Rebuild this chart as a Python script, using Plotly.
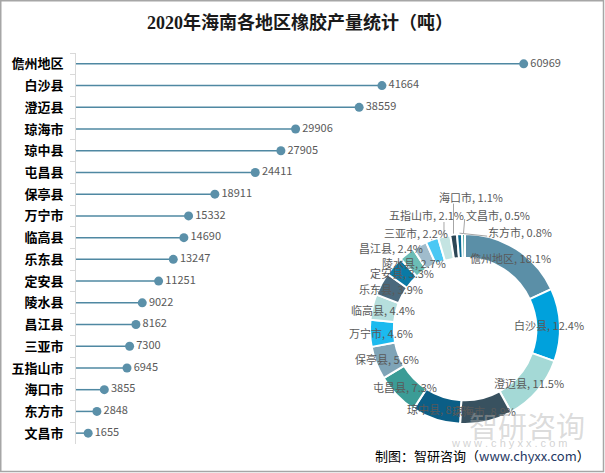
import math
import plotly.graph_objects as go

# ---------------- data ----------------
regions = ["儋州地区", "白沙县", "澄迈县", "琼海市", "琼中县", "屯昌县", "保亭县", "万宁市", "临高县",
           "乐东县", "定安县", "陵水县", "昌江县", "三亚市", "五指山市", "海口市", "东方市", "文昌市"]
output_t = [60969, 41664, 38559, 29906, 27905, 24411, 18911, 15332, 14690,
            13247, 11251, 9022, 8162, 7300, 6945, 3855, 2848, 1655]

title_text = "2020年海南各地区橡胶产量统计（吨）"
source_text = "制图：智研咨询（<span style='color:#1f3864'>www.chyxx.com</span>）"

# ---------------- style ----------------
W, H = 605, 473
ML, MR, MT, MB = 76, 15, 53, 29
PW, PH = W - ML - MR, H - MT - MB
X_MAX = 70000

slice_colors = ["#5b8fa7", "#00a1dc", "#a4d9d6", "#38515f", "#0b5e86", "#3b9c96",
                "#7fa4b7", "#1cbaef", "#b6dfdd", "#4a697d", "#0a7aa6", "#6bbdb6",
                "#a0bccc", "#4ac8f4", "#c4e4e2", "#2c4656", "#0a6b92", "#3fa09a"]

# donut geometry (pixels)
CX, CY, R_OUT, HOLE = 465, 329, 95, 0.75
R_LABEL = 84
label_shift = {"昌江县": (-34, -7), "三亚市": (-20, -17), "五指山市": (-20, -32),
               "海口市": (16, -49), "东方市": (60, -13), "文昌市": (34, -30)}
leader_regions = ["三亚市", "五指山市", "海口市", "东方市", "文昌市"]

CJK = "Noto Sans CJK SC"


def px_x(px):
    return (px - ML) / PW


def px_y(py):
    return (MT + PH - py) / PH


fig = go.Figure()

# lollipop stems
sx, sy = [], []
for r, v in zip(regions, output_t):
    sx += [0, v, None]
    sy += [r, r, None]
fig.add_trace(go.Scatter(x=sx, y=sy, mode="lines",
                         line=dict(color="#4f88a2", width=1.5),
                         hoverinfo="skip", showlegend=False))
# lollipop heads + value labels
fig.add_trace(go.Scatter(x=output_t, y=regions, mode="markers+text",
                         marker=dict(size=9, color="#5b90a9"),
                         text=[str(v) for v in output_t], textposition="middle right",
                         textfont=dict(family=CJK, size=11, color="#595959"),
                         cliponaxis=False, showlegend=False))

# donut
fig.add_trace(go.Pie(labels=regions, values=output_t, sort=False, direction="clockwise",
                     rotation=0, hole=HOLE, textinfo="none", showlegend=False,
                     marker=dict(colors=slice_colors, line=dict(color="white", width=2)),
                     domain=dict(x=[px_x(CX - R_OUT), px_x(CX + R_OUT)],
                                 y=[px_y(CY + R_OUT), px_y(CY - R_OUT)])))

annotations = []
shapes = []
total = sum(output_t)
cum = 0.0
for r, v in zip(regions, output_t):
    frac = v / total
    mid = (cum + frac / 2) * 2 * math.pi
    cum += frac
    lx = CX + R_LABEL * math.sin(mid)
    ly = CY - R_LABEL * math.cos(mid)
    dx, dy = label_shift.get(r, (0, 0))
    lx, ly = lx + dx, ly + dy
    txt = f"{r}, {frac * 100:.1f}%"
    annotations.append(dict(x=px_x(lx), y=px_y(ly), xref="paper", yref="paper",
                            text=txt, showarrow=False, xanchor="center", yanchor="middle",
                            font=dict(family=CJK, size=11, color="#595959")))
    if r in leader_regions:
        ex = CX + (R_OUT + 1) * math.sin(mid)
        ey = CY - (R_OUT + 1) * math.cos(mid)
        hw = (len(r) * 11 + 6 * 5.5) / 2
        if abs(ex - lx) < hw * 0.6:
            tx, ty = ex, ly + 7
        elif ex > lx:
            tx, ty = lx + hw, ly + 4
        else:
            tx, ty = lx - hw, ly + 4
        shapes.append(dict(type="line", xref="paper", yref="paper",
                           x0=px_x(ex), y0=px_y(ey), x1=px_x(tx), y1=px_y(ty),
                           line=dict(color="#a6a6a6", width=1)))

# watermark
annotations.append(dict(x=px_x(527), y=px_y(425), xref="paper", yref="paper",
                        text="智研咨询", showarrow=False, xanchor="center", yanchor="middle",
                        font=dict(family=CJK, size=29, color="rgba(175,175,175,0.45)")))
annotations.append(dict(x=px_x(509), y=px_y(443), xref="paper", yref="paper",
                        text="w w w . c h y x x . c o m", showarrow=False,
                        xanchor="center", yanchor="middle",
                        font=dict(family="Liberation Sans", size=11, color="rgba(180,180,180,0.6)")))
# source
annotations.append(dict(x=px_x(482), y=px_y(455), xref="paper", yref="paper",
                        text=source_text, showarrow=False, xanchor="center", yanchor="middle",
                        font=dict(family=CJK, size=13, color="#000000")))

# outer border
shapes.append(dict(type="rect", xref="paper", yref="paper",
                   x0=px_x(0.75), x1=px_x(603.5), y0=px_y(471.5), y1=px_y(0.75),
                   line=dict(color="#a6a6a6", width=1.5), layer="above"))

fig.update_layout(
    width=W, height=H, margin=dict(l=ML, r=MR, t=MT, b=MB),
    paper_bgcolor="white", plot_bgcolor="white",
    title=dict(text=title_text, x=300 / W, xref="container", xanchor="center",
               y=1 - 23 / H, yref="container", yanchor="middle",
               font=dict(family="Liberation Serif, " + CJK, size=18, color="#1a1a1a", weight="bold")),
    xaxis=dict(range=[0, X_MAX], showgrid=False, zeroline=False, showticklabels=False,
               showline=False, ticks=""),
    yaxis=dict(categoryorder="array", categoryarray=regions,
               range=[len(regions) - 0.5, -0.5], autorange=False,
               showgrid=False, zeroline=False, showline=True, linecolor="#d9d9d9", linewidth=1,
               ticks="outside", tickson="boundaries", ticklen=5, tickcolor="#d9d9d9",
               ticklabelstandoff=9,
               tickfont=dict(family=CJK, size=13, color="#000000", weight="bold")),
    annotations=annotations, shapes=shapes,
)

fig.write_html("out.html", post_script="document.body.style.margin='0';",
               config={"displayModeBar": False})
